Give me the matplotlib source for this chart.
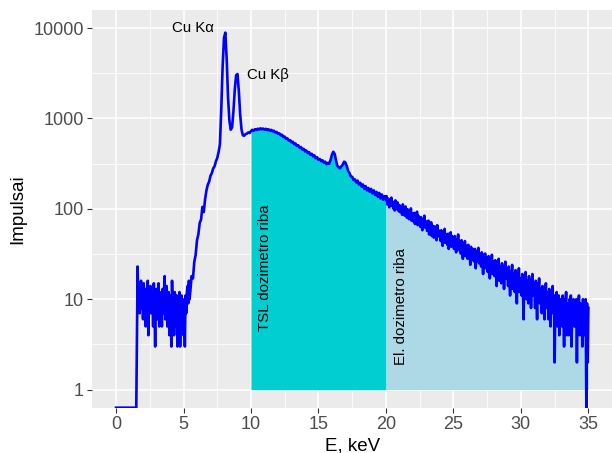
import numpy as np
import matplotlib
matplotlib.use("Agg")
import matplotlib.pyplot as plt
from matplotlib.ticker import FixedLocator, NullFormatter

# ---------------- data ----------------
# channel counts
counts_zero = [0] * 16  # 0.0 .. 1.5 keV, step 0.1

counts_low = [23, 9, 14, 7, 12, 16, 8, 11, 6, 15,
              10, 13, 5, 12, 8, 16, 4, 11, 9, 14,
              7, 12, 10, 5, 15, 8, 3, 11, 13, 6,
              10, 15, 5, 12, 8, 9, 5, 13, 7, 11,
              18, 6, 10, 14, 5, 9, 12, 4, 11, 8,
              3, 16, 7, 10, 4, 12, 9, 5, 11, 3,
              10, 6, 12, 3, 9, 11, 5, 10, 4, 8,
              3, 11, 7, 12, 14, 9, 16, 10]  # 1.60 .. 5.45, step 0.05

counts_rise = [12, 18, 17, 26, 31, 45, 52, 70, 76, 105, 92, 128, 160, 185, 200, 232,
               248, 280, 295, 335, 365, 425]  # 5.5 .. 7.6, step 0.1

counts_peaks = [520, 1300, 3800, 7800, 8900, 4500, 1700, 950, 750, 800, 1200, 2100,
                3000, 3100, 2000, 1100, 750, 650, 645, 670, 680, 700, 690]  # 7.7 .. 9.9

counts_tsl = [725, 748, 730, 760, 745, 770, 752, 778, 758, 772,
              750, 768, 742, 758, 732, 748, 720, 730, 700, 708,
              676, 684, 650, 660, 622, 630, 595, 602, 568, 575,
              545, 552, 518, 528, 495, 505, 474, 482, 452, 462,
              432, 442, 414, 424, 396, 406, 380, 390, 362, 372,
              348, 356, 336, 344, 324, 332, 312, 322, 316, 348,
              398, 428, 405, 345, 298, 288, 280, 295, 308, 332,
              325, 296, 262, 248, 228, 226, 208, 212, 196, 205,
              186, 194, 176, 186, 166, 178, 160, 170, 154, 166,
              148, 160, 142, 154, 136, 150, 130, 144, 126, 138]  # 10.0 .. 19.9, step 0.1

counts_el = [125, 138, 112, 130, 118, 104, 127, 115, 133, 108,
             120, 101, 116, 96, 124, 108, 99, 118, 104, 94,
             110, 92, 104, 97, 86, 112, 95, 100, 84, 106,
             93, 80, 99, 86, 77, 95, 83, 101, 74, 89,
             86, 72, 90, 68, 82, 76, 93, 66, 84, 74,
             78, 63, 81, 70, 58, 76, 67, 84, 62, 73,
             70, 57, 66, 74, 52, 68, 60, 71, 50, 65,
             62, 48, 64, 55, 60, 45, 66, 52, 58, 49,
             56, 44, 58, 47, 39, 55, 50, 60, 42, 52,
             49, 40, 53, 36, 47, 44, 55, 38, 50, 41,
             47, 36, 50, 40, 33, 46, 42, 52, 35, 44,
             41, 32, 45, 36, 28, 40, 35, 44, 30, 39,
             37, 28, 40, 31, 35, 24, 38, 33, 27, 36,
             33, 26, 36, 22, 30, 34, 27, 37, 25, 31,
             30, 23, 33, 26, 19, 31, 27, 32, 22, 29,
             27, 20, 30, 24, 17, 28, 22, 31, 19, 26,
             25, 18, 27, 21, 14, 24, 20, 28, 16, 23,
             22, 15, 25, 19, 23, 13, 21, 26, 17, 20,
             21, 14, 23, 16, 11, 20, 17, 24, 13, 19,
             18, 12, 21, 15, 9, 19, 14, 22, 12, 17,
             17, 11, 19, 13, 6, 18, 14, 20, 10, 16,
             15, 9, 18, 12, 16, 8, 14, 19, 11, 13,
             14, 8, 16, 11, 6, 15, 12, 17, 9, 13,
             12, 7, 14, 10, 13, 6, 11, 15, 8, 12,
             11, 6, 13, 9, 5, 12, 10, 14, 7, 11,
             2, 10, 7, 12, 5, 9, 11, 4, 10, 8,
             9, 5, 11, 7, 3, 10, 8, 12, 4, 9,
             8, 4, 10, 6, 11, 3, 9, 7, 10, 5,
             9, 5, 10, 2, 8, 6, 11, 4, 9, 7,
             8, 3, 10, 6, 9, 4, 10, 0, 9, 2,
             8]  # 20.00 .. 35.00, step 0.05

# (first channel energy in keV, channel width in keV) for each segment
segment_starts = [0.0, 1.6, 5.5, 7.7, 10.0, 20.0]
segment_steps = [0.1, 0.05, 0.1, 0.1, 0.1, 0.05]

x_ticks = [0, 5, 10, 15, 20, 25, 30, 35]
y_ticks = [1, 10, 100, 1000, 10000]
y_tick_labels = ["1", "10", "100", "1000", "10000"]

tsl_range = (10, 20)
el_range = (20, 35)

annotations = [("Cu K\u03b1", 5.69, 10000), ("Cu K\u03b2", 11.24, 3000)]
region_labels = [("TSL dozimetro riba", 11.04, 22.3), ("El. dozimetro riba", 21.1, 8.4)]

# ---------------- build ----------------
segments = [counts_zero, counts_low, counts_rise, counts_peaks, counts_tsl, counts_el]
energy = np.concatenate([np.round(s0 + np.arange(len(seg)) * st, 3)
                         for s0, st, seg in zip(segment_starts, segment_steps, segments)])
counts = np.concatenate([np.asarray(seg, dtype=float) for seg in segments])

# ggplot-like expanded limits
xmin, xmax = energy.min(), energy.max()
xpad = 0.05 * (xmax - xmin)
ylo_log, yhi_log = np.log10(1), np.log10(annotations[0][2])
ypad = 0.05 * (yhi_log - ylo_log)
ylim = (10 ** (ylo_log - ypad), 10 ** (yhi_log + ypad))

plot_counts = np.where(counts > 0, counts, ylim[0])
fill_counts = np.maximum(counts, 1)

plt.rcParams["font.family"] = ["Liberation Sans", "DejaVu Sans"]

fig = plt.figure(figsize=(6.12, 4.53), dpi=100)
ax = fig.add_axes([0.151, 0.1, 0.849, 0.878])
ax.set_facecolor("#EBEBEB")
for s in ax.spines.values():
    s.set_visible(False)

ax.set_yscale("log")
ax.set_xlim(xmin - xpad, xmax + xpad)
ax.set_ylim(*ylim)

# grid
ax.xaxis.set_major_locator(FixedLocator(x_ticks))
ax.xaxis.set_minor_locator(FixedLocator([t + 2.5 for t in x_ticks[:-1]]))
ax.yaxis.set_major_locator(FixedLocator(y_ticks))
ax.yaxis.set_minor_locator(FixedLocator([t * np.sqrt(10) for t in y_ticks[:-1]]))
ax.yaxis.set_minor_formatter(NullFormatter())
ax.set_yticklabels(y_tick_labels)
ax.grid(which="major", color="white", linewidth=1.1)
ax.grid(which="minor", color="white", linewidth=0.55)
ax.set_axisbelow(True)
ax.tick_params(which="minor", length=0)
ax.tick_params(which="major", length=3.5, width=0.8, color="#333333",
               labelsize=13, labelcolor="#4D4D4D", pad=2.5)

# fills
m1 = (energy >= tsl_range[0]) & (energy <= tsl_range[1])
m2 = (energy >= el_range[0]) & (energy <= el_range[1])
ax.fill_between(energy[m1], 1, fill_counts[m1], color="#00CED1", linewidth=0, zorder=2)
ax.fill_between(energy[m2], 1, fill_counts[m2], color="#ADD8E6", linewidth=0, zorder=2)

# spectrum
ax.plot(energy, plot_counts, color="#0000FF", linewidth=1.9, zorder=3)

for txt, xx, yy in annotations:
    ax.text(xx, yy, txt, ha="center", va="center", fontsize=10.8, color="black", zorder=4)
for txt, xx, yy in region_labels:
    ax.text(xx, yy, txt, ha="center", va="center", rotation=90, fontsize=10.8,
            color="black", zorder=4)

ax.set_xlabel("E, keV", fontsize=13.5, color="black", labelpad=3)
ax.set_ylabel("Impulsai", fontsize=13.5, color="black", labelpad=5)

fig.savefig("out.png", dpi=100)
